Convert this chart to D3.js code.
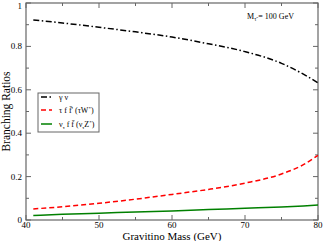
<!DOCTYPE html>
<html><head><meta charset="utf-8">
<script src="https://cdn.jsdelivr.net/npm/d3@7"></script>
<style>body{margin:0;background:#fff}svg{display:block}text{font-family:"Liberation Serif","Times New Roman",serif}</style>
</head><body><svg id="c" width="323" height="241"></svg>
<script>
const xTicks = [40, 50, 60, 70, 80];
const yTicks = [0, 0.2, 0.4, 0.6, 0.8, 1];
const masses = [41, 45, 50, 55, 60, 65, 70, 75, 78, 80];
const gammaNu = [0.922, 0.908, 0.888, 0.867, 0.843, 0.812, 0.776, 0.722, 0.672, 0.632];
const tauFF = [0.051, 0.061, 0.077, 0.096, 0.118, 0.141, 0.170, 0.212, 0.255, 0.298];
const nuFF = [0.021, 0.026, 0.031, 0.037, 0.042, 0.048, 0.054, 0.060, 0.065, 0.069];
const seriesNames = ["\u03B3 \u03BD", "\u03C4 f f\u0304' (\u03C4W*)", "\u03BD\u03C4 f f\u0304 (\u03BD\u03C4Z*)"];

const svg = d3.select("#c");
const L = 26, R = 318, T = 3, B = 220;
const x = d3.scaleLinear().domain([40, 80]).range([L, R]);
const y = d3.scaleLinear().domain([0, 1]).range([B, T]);
const axCol = "#666";

const minorX = d3.range(45, 80, 10), minorY = d3.range(0.1, 1, 0.2);
function tickSet(vals, len) {
  vals.forEach(v => {
    svg.append("line").attr("x1", x(v)).attr("x2", x(v)).attr("y1", B).attr("y2", B - len).attr("stroke", axCol);
    svg.append("line").attr("x1", x(v)).attr("x2", x(v)).attr("y1", T).attr("y2", T + len).attr("stroke", axCol);
  });
}
tickSet(xTicks, 5); tickSet(minorX, 3);
function tickSetY(vals, len) {
  vals.forEach(v => {
    svg.append("line").attr("y1", y(v)).attr("y2", y(v)).attr("x1", L).attr("x2", L + len).attr("stroke", axCol);
    svg.append("line").attr("y1", y(v)).attr("y2", y(v)).attr("x1", R).attr("x2", R - len).attr("stroke", axCol);
  });
}
tickSetY(yTicks, 5); tickSetY(minorY, 3);

svg.append("rect").attr("x", L).attr("y", T).attr("width", R - L).attr("height", B - T)
  .attr("fill", "none").attr("stroke", axCol).attr("stroke-width", 1.2);

svg.selectAll(".xl").data(xTicks).enter().append("text")
  .attr("x", d => x(d)).attr("y", 228).attr("text-anchor", "middle").attr("font-size", 9).text(d => d);
svg.selectAll(".yl").data(yTicks).enter().append("text")
  .attr("x", 22).attr("y", d => Math.max(y(d) + 3, 9)).attr("text-anchor", "end").attr("font-size", 9).text(d => d);

svg.append("text").attr("x", x(60)).attr("y", 239.5).attr("text-anchor", "middle").attr("font-size", 11).text("Gravitino Mass (GeV)");
svg.append("text").attr("transform", `translate(10,${(T + B) / 2}) rotate(-90)`).attr("text-anchor", "middle").attr("font-size", 11.5).text("Branching Ratios");

const ann = svg.append("text").attr("x", 247).attr("y", 19).attr("font-size", 8);
ann.append("tspan").text("M");
ann.append("tspan").attr("dy", 2).attr("font-size", 5.5).text("\u03C4\u0303");
ann.append("tspan").attr("dy", -2).text(" = 100 GeV");

const line = d3.line().x(d => x(d[0])).y(d => y(d[1])).curve(d3.curveMonotoneX);
const styles = [
  {data: gammaNu, color: "#000", dash: "6,2.5,1.5,2.5"},
  {data: tauFF, color: "#ff0000", dash: "5,3"},
  {data: nuFF, color: "#008000", dash: null}
];
styles.forEach(s => {
  svg.append("path").datum(masses.map((m, i) => [m, s.data[i]]))
    .attr("d", line).attr("fill", "none").attr("stroke", s.color).attr("stroke-width", 1.5)
    .attr("stroke-dasharray", s.dash);
});

svg.append("rect").attr("x", 38).attr("y", 93).attr("width", 61).attr("height", 39)
  .attr("fill", "#fff").attr("stroke", axCol).attr("stroke-width", 1);
const rows = [97, 110, 124];
styles.forEach((s, i) => {
  svg.append("line").attr("x1", 41).attr("x2", 52).attr("y1", rows[i]).attr("y2", rows[i])
    .attr("stroke", s.color).attr("stroke-width", 1.5).attr("stroke-dasharray", s.dash);
});
const fs = 8;
svg.append("text").attr("x", 59).attr("y", rows[0] + 2.5).attr("font-size", fs).text(seriesNames[0]);
const t2 = svg.append("text").attr("x", 59).attr("y", rows[1] + 2.5).attr("font-size", fs);
t2.append("tspan").text("\u03C4 f f\u0304' (\u03C4W");
t2.append("tspan").attr("dy", -3).attr("font-size", 5).text("*");
t2.append("tspan").attr("dy", 3).text(")");
const t3 = svg.append("text").attr("x", 59).attr("y", rows[2] + 2.5).attr("font-size", fs);
t3.append("tspan").text("\u03BD");
t3.append("tspan").attr("dy", 2).attr("font-size", 5).text("\u03C4");
t3.append("tspan").attr("dy", -2).text(" f f\u0304 (\u03BD");
t3.append("tspan").attr("dy", 2).attr("font-size", 5).text("\u03C4");
t3.append("tspan").attr("dy", -2).text("Z");
t3.append("tspan").attr("dy", -3).attr("font-size", 5).text("*");
t3.append("tspan").attr("dy", 3).text(")");
</script></body></html>
